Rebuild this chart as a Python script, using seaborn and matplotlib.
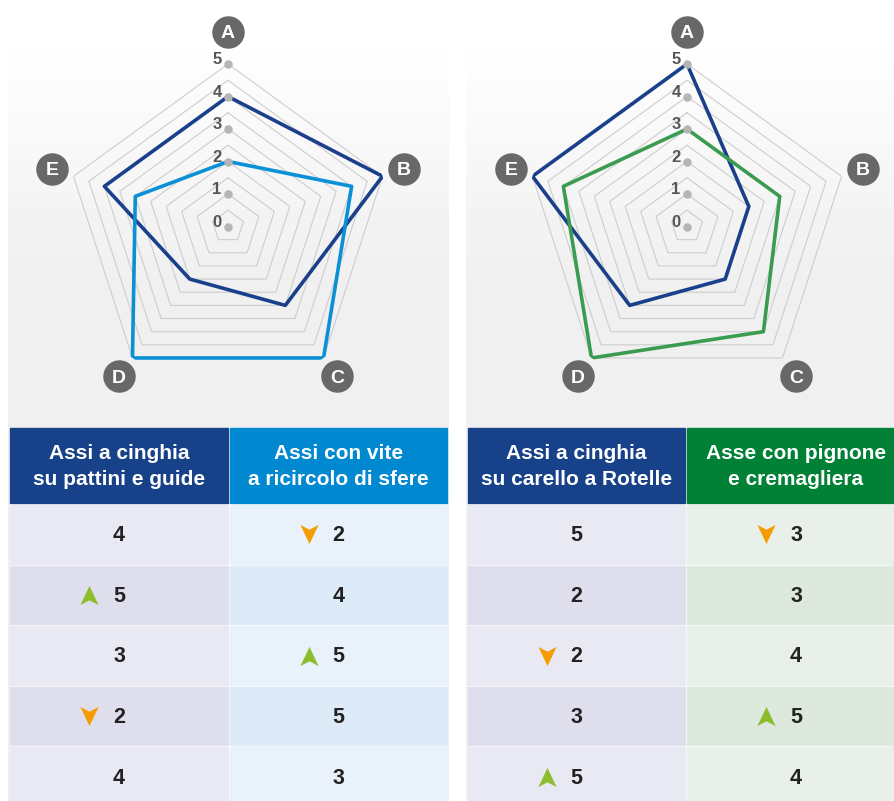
import numpy as np
import pandas as pd
import matplotlib
matplotlib.use('Agg')
import matplotlib.pyplot as plt
from matplotlib.patches import Rectangle
from matplotlib.path import Path
import seaborn as sns

# ---------------------------------------------------------------
# data
# ---------------------------------------------------------------
categories = ['A', 'B', 'C', 'D', 'E']

left_belt = [4, 5, 3, 2, 4]
left_screw = [2, 4, 5, 5, 3]
right_belt = [5, 2, 2, 3, 5]
right_rack = [3, 3, 4, 5, 4]

left_belt_marks = ['', 'up', '', 'down', '']
left_screw_marks = ['down', '', 'up', '', '']
right_belt_marks = ['', '', 'down', '', 'up']
right_rack_marks = ['down', '', '', 'up', '']

left_headers = ['Assi a cinghia\nsu pattini e guide', 'Assi con vite\na ricircolo di sfere']
right_headers = ['Assi a cinghia\nsu carello a Rotelle', 'Asse con pignone\ne cremagliera']

scale_ticks = [0, 1, 2, 3, 4, 5]

# ---------------------------------------------------------------
# style
# ---------------------------------------------------------------
DARK_BLUE = '#1a3f8b'
LIGHT_BLUE = '#0a90d5'
GREEN_LINE = '#3b9b50'
HDR_DARK = '#174189'
HDR_LIGHT = '#0088d1'
HDR_GREEN = '#008136'
UP_CLR = '#8cbd2c'
DOWN_CLR = '#f59d00'
GRID = '#cdcdcd'
LABEL_BG = '#686868'

sns.set_theme(style='white')
plt.rcParams['font.family'] = ['Liberation Sans', 'DejaVu Sans']
NARROW = ['Liberation Sans Narrow', 'Liberation Sans', 'DejaVu Sans']

W, H = 894, 801
fig = plt.figure(figsize=(W / 100, H / 100), dpi=100, facecolor='white')

# background axes in pixel coordinates
bg = fig.add_axes([0, 0, 1, 1], zorder=0)
bg.axis('off')

grad = np.concatenate([np.full(30, 1.0), np.linspace(1.0, 0.94, 250), np.full(H - 280, 0.94)])
grad_img = np.repeat(grad[:, None], 2, axis=1)
for x0, x1 in [(8, 449), (466, W)]:
    bg.imshow(grad_img, cmap='gray', vmin=0, vmax=1, extent=[x0, x1, H, 0],
              aspect='auto', interpolation='nearest', zorder=0)

# arrow markers (notched arrowheads)
up_path = Path([(0, 1), (0.95, -1), (0, -0.5), (-0.95, -1), (0, 1)],
               [Path.MOVETO, Path.LINETO, Path.LINETO, Path.LINETO, Path.CLOSEPOLY])
down_path = Path([(0, -1), (0.95, 1), (0, 0.5), (-0.95, 1), (0, -1)],
                 [Path.MOVETO, Path.LINETO, Path.LINETO, Path.LINETO, Path.CLOSEPOLY])

theta = np.deg2rad(np.arange(0, 361, 72))


def radar(cx, cy, series, colors):
    R = 162.5
    ax = fig.add_axes([(cx - R) / W, (H - cy - R) / H, 2 * R / W, 2 * R / H],
                      projection='polar', zorder=2)
    ax.set_theta_zero_location('N')
    ax.set_theta_direction(-1)
    ax.patch.set_alpha(0)
    ax.spines['polar'].set_visible(False)
    ax.grid(False)
    ax.set_xticks([])
    ax.set_yticks([])

    for lvl in np.arange(0.5, 5.01, 0.5):
        ax.plot(theta, [lvl] * len(theta), color=GRID, lw=0.8, zorder=1)

    for vals, clr in zip(series, colors):
        df = pd.DataFrame({'theta': theta, 'r': vals + vals[:1]})
        sns.lineplot(data=df, x='theta', y='r', sort=False, estimator=None,
                     color=clr, lw=2.6, ax=ax, zorder=3)
    ax.set_xlabel('')
    ax.set_ylabel('')
    ax.set_ylim(0, 5)

    ax.scatter([0] * len(scale_ticks), scale_ticks, s=26, color='#b5b5b5',
               zorder=4, clip_on=False)
    for t in scale_ticks:
        ax.annotate(str(t), (0, t), xytext=(-8, 3), textcoords='offset points',
                    ha='center', va='center', fontsize=12, fontweight='bold',
                    color='#555555', family=NARROW, zorder=5, annotation_clip=False)

    lab_r = [6.0, 5.7, 5.7, 5.7, 5.7]
    ax.scatter(theta[:-1], lab_r, s=500, color=LABEL_BG, zorder=5, clip_on=False)
    for th, rr, c in zip(theta[:-1], lab_r, categories):
        ax.annotate(c, (th, rr), xytext=(0, -1.2), textcoords='offset points',
                    ha='center', va='center', color='white', fontsize=14,
                    fontweight='bold', family=NARROW, zorder=6, annotation_clip=False)


radar(228, 226.5, [left_belt, left_screw], [DARK_BLUE, LIGHT_BLUE])
radar(687, 226.5, [right_belt, right_rack], [DARK_BLUE, GREEN_LINE])


def table(cols, headers, hdr_colors, row_colors, data):
    top, hdr_h = 428, 75
    row0, pitch, row_h = 505, 60.6, 58.6
    bg.add_patch(Rectangle((cols[0][0], top), cols[-1][1] - cols[0][0], H - top,
                           color='white', zorder=0.5))
    for (x0, x1, cx), head, hc, rc, (vals, marks) in zip(cols, headers, hdr_colors,
                                                           row_colors, data):
        bg.add_patch(Rectangle((x0, top), x1 - x0, hdr_h, color=hc, zorder=1))
        bg.text(cx, top + hdr_h / 2 + 1, head, ha='center', va='center', color='white',
                fontsize=15, fontweight='bold', linespacing=1.42, zorder=2)
        for i, (v, m) in enumerate(zip(vals, marks)):
            y0 = row0 + i * pitch
            bg.add_patch(Rectangle((x0, y0), x1 - x0, row_h, color=rc[i % 2], zorder=1))
            yc = y0 + row_h / 2
            bg.text(cx, yc + 1.5, str(v), ha='center', va='center', color='#222222',
                    fontsize=15.5, fontweight='bold', zorder=2)
            if m:
                bg.scatter([cx - 30], [yc], s=190,
                           marker=up_path if m == 'up' else down_path,
                           color=UP_CLR if m == 'up' else DOWN_CLR,
                           linewidths=0, zorder=3)


ROW_PURPLE = ['#e9e9f3', '#dfdeed']
ROW_BLUE = ['#e9f1fb', '#ddeaf8']
ROW_GREEN = ['#e9f0e9', '#dde9dd']

table([(10, 228, 119), (230, 447, 338.5)], left_headers,
      [HDR_DARK, HDR_LIGHT], [ROW_PURPLE, ROW_BLUE],
      [(left_belt, left_belt_marks), (left_screw, left_screw_marks)])

table([(468, 685, 576.5), (687, 905, 796)], right_headers,
      [HDR_DARK, HDR_GREEN], [ROW_PURPLE, ROW_GREEN],
      [(right_belt, right_belt_marks), (right_rack, right_rack_marks)])

bg.set_xlim(0, W)
bg.set_ylim(H, 0)

fig.savefig('out.png', dpi=100, facecolor='white')
